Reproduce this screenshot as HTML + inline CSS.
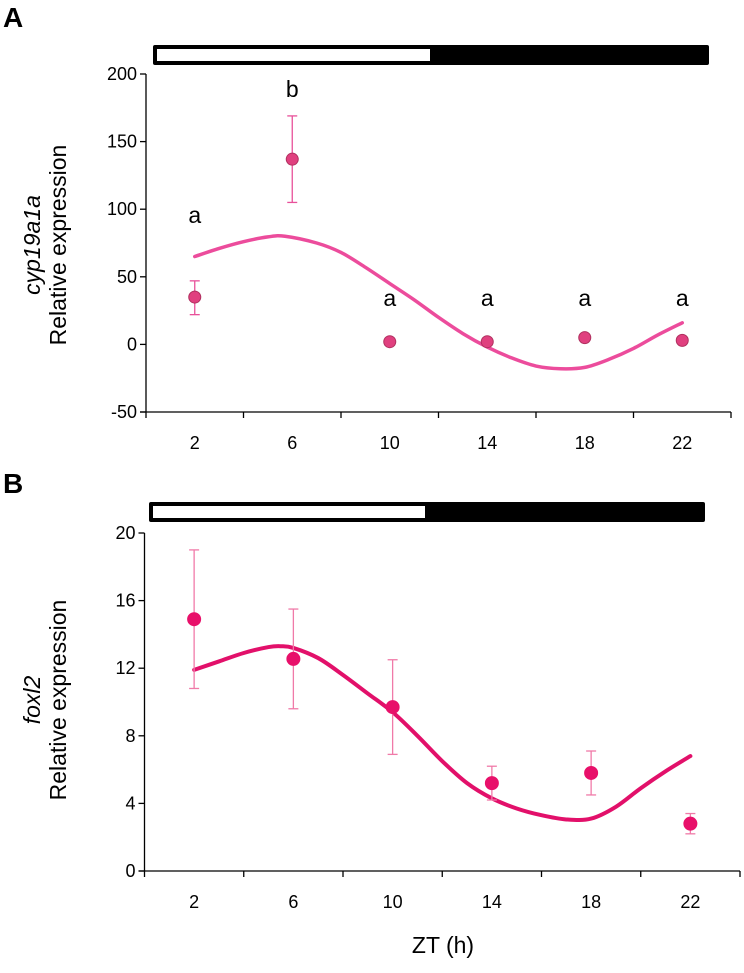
<!DOCTYPE html>
<html><head><meta charset="utf-8"><style>
html,body{margin:0;padding:0;background:#fff;}
svg text{font-family:"Liberation Sans",sans-serif;fill:#000;}
</style></head><body>
<svg width="744" height="968" viewBox="0 0 744 968" xmlns="http://www.w3.org/2000/svg">
<g id="root"></g>
</svg>
<script>
const hoursZT = [2, 6, 10, 14, 18, 22];
const xTickLabels = ["2","6","10","14","18","22"];
const aMean = [35, 137, 2, 2, 5, 3];
const aLow = [22, 105, 2, 2, 5, 3];
const aHigh = [47, 169, 2, 2, 5, 3];
const aLetters = ["a","b","a","a","a","a"];
const aFitX = [2,3,4,5,5.7,7,8,9,10,11,12,13,14,15,16,17,18,19,20,21,22];
const aFitY = [65,71,76,79.5,80,75,68,57,45,33,20,8,-2,-10,-16,-18,-17,-11,-3,7,16];
const aYTicks = [-50,0,50,100,150,200];
const bMean = [14.9, 12.55, 9.7, 5.2, 5.8, 2.8];
const bLow = [10.8, 9.6, 6.9, 4.2, 4.5, 2.2];
const bHigh = [19, 15.5, 12.5, 6.2, 7.1, 3.4];
const bFitX = [2,3,4,5,5.5,6,7,8,9,10,11,12,13,14,15,16,17,18,19,20,21,22];
const bFitY = [11.9,12.4,12.9,13.25,13.3,13.2,12.6,11.6,10.5,9.4,8.0,6.5,5.2,4.3,3.7,3.3,3.05,3.1,3.8,4.9,5.9,6.8];
const bYTicks = [0,4,8,12,16,20];

const NS="http://www.w3.org/2000/svg";
const root=document.getElementById('root');
function mk(tag,attrs,parent){const e=document.createElementNS(NS,tag);for(const k in attrs)e.setAttribute(k,attrs[k]);(parent||root).appendChild(e);return e;}
function smooth(pts){let d=`M${pts[0][0]},${pts[0][1]}`;for(let i=0;i<pts.length-1;i++){const p0=pts[i-1]||pts[i],p1=pts[i],p2=pts[i+1],p3=pts[i+2]||p2;const c1=[p1[0]+(p2[0]-p0[0])/6,p1[1]+(p2[1]-p0[1])/6],c2=[p2[0]-(p3[0]-p1[0])/6,p2[1]-(p3[1]-p1[1])/6];d+=` C${c1[0]},${c1[1]} ${c2[0]},${c2[1]} ${p2[0]},${p2[1]}`;}return d;}

function panel(cfg){
  const g=mk('g',{});
  
  
  const X=h=>cfg.x0+h*(cfg.x1-cfg.x0)/24;
  const Y=v=>cfg.yb+(v-cfg.ymin)*(cfg.yt-cfg.yb)/(cfg.ymax-cfg.ymin);
  const bar=mk('g',{},g);
  mk('rect',{x:cfg.barX,y:cfg.barY,width:cfg.barW,height:20,rx:2,fill:'#000'},bar);
  mk('rect',{x:cfg.barX+4,y:cfg.barY+4,width:cfg.barWhite-cfg.barX-4,height:12,fill:'#fff'},bar);
  const ax=mk('g',{stroke:'#000','stroke-width':1.3},g);
  mk('line',{x1:cfg.x0,y1:Y(cfg.ymax),x2:cfg.x0,y2:Y(cfg.ymin)},ax);
  mk('line',{x1:cfg.x0-6,y1:Y(cfg.ymin),x2:cfg.x1,y2:Y(cfg.ymin)},ax);
  cfg.yticks.forEach(t=>{mk('line',{x1:cfg.x0-6,y1:Y(t),x2:cfg.x0,y2:Y(t)},ax);
    const tx=mk('text',{x:cfg.x0-9,y:Y(t)+6,'text-anchor':'end','font-size':18,stroke:'none'},g);tx.textContent=t;
    });
  for(let h=0;h<=24;h+=4)mk('line',{x1:X(h),y1:Y(cfg.ymin),x2:X(h),y2:Y(cfg.ymin)+6},ax);
  hoursZT.forEach((h,i)=>{const tx=mk('text',{x:X(h),y:Y(cfg.ymin)+37,'text-anchor':'middle','font-size':18},g);tx.textContent=xTickLabels[i];
    });
  const pts=cfg.fitX.map((h,i)=>[X(h),Y(cfg.fitY[i])]);
  const c=mk('path',{d:smooth(pts),fill:'none',stroke:cfg.curve,'stroke-width':cfg.cw,'stroke-linecap':'round'},g);
  
  hoursZT.forEach((h,i)=>{
    const eb=mk('g',{stroke:cfg.err,'stroke-width':1.3},g);
    if(cfg.high[i]!==cfg.low[i]){mk('line',{x1:X(h),y1:Y(cfg.high[i]),x2:X(h),y2:Y(cfg.low[i])},eb);
      mk('line',{x1:X(h)-5,y1:Y(cfg.high[i]),x2:X(h)+5,y2:Y(cfg.high[i])},eb);
      mk('line',{x1:X(h)-5,y1:Y(cfg.low[i]),x2:X(h)+5,y2:Y(cfg.low[i])},eb);}
    const p=mk('circle',{cx:X(h),cy:Y(cfg.mean[i]),r:cfg.r,fill:cfg.pt,stroke:cfg.ptStroke,'stroke-width':1},g);
    
  });
  return {X,Y,g};
}
const A=panel({name:'panel-a',x0:146,x1:731,yt:74,yb:412,ymin:-50,ymax:200,yticks:aYTicks,barX:153,barY:45,barW:556,barWhite:430,
  fitX:aFitX,fitY:aFitY,mean:aMean,low:aLow,high:aHigh,curve:'#ec4c9c',cw:3.5,err:'#e8509a',pt:'#e0407f',ptStroke:'#b0305f',r:6});
aLetters.forEach((l,i)=>{const t=mk('text',{x:A.X(hoursZT[i]),y:i===0?223:(i===1?97:306),'text-anchor':'middle','font-size':23},A.g);t.textContent=l;
  });
const B=panel({name:'panel-b',x0:144.5,x1:740,yt:533,yb:871,ymin:0,ymax:20,yticks:bYTicks,barX:149,barY:502,barW:556,barWhite:425,
  fitX:bFitX,fitY:bFitY,mean:bMean,low:bLow,high:bHigh,curve:'#e2106a',cw:4,err:'#f07aa8',pt:'#e8106a',ptStroke:'#e8106a',r:6.5});
function label(txt,attrs,name){const t=mk('text',attrs);t.innerHTML=txt;return t;}
label('A',{x:3,y:27,'font-size':28,'font-weight':'bold'},'panel-a-label');
label('B',{x:3,y:493,'font-size':28,'font-weight':'bold'},'panel-b-label');
label('<tspan font-style="italic">cyp19a1a</tspan>',{x:0,y:0,'font-size':23,'text-anchor':'middle',transform:'translate(40,245) rotate(-90)'},'y-axis-title-a-gene');
label('Relative expression',{x:0,y:0,'font-size':23,'text-anchor':'middle',transform:'translate(66,245) rotate(-90)'},'y-axis-title-a');
label('<tspan font-style="italic">foxl2</tspan>',{x:0,y:0,'font-size':23,'text-anchor':'middle',transform:'translate(40,700) rotate(-90)'},'y-axis-title-b-gene');
label('Relative expression',{x:0,y:0,'font-size':23,'text-anchor':'middle',transform:'translate(66,700) rotate(-90)'},'y-axis-title-b');
label('ZT (h)',{x:443,y:953,'font-size':23,'text-anchor':'middle'},'x-axis-title');
</script>
</body></html>
